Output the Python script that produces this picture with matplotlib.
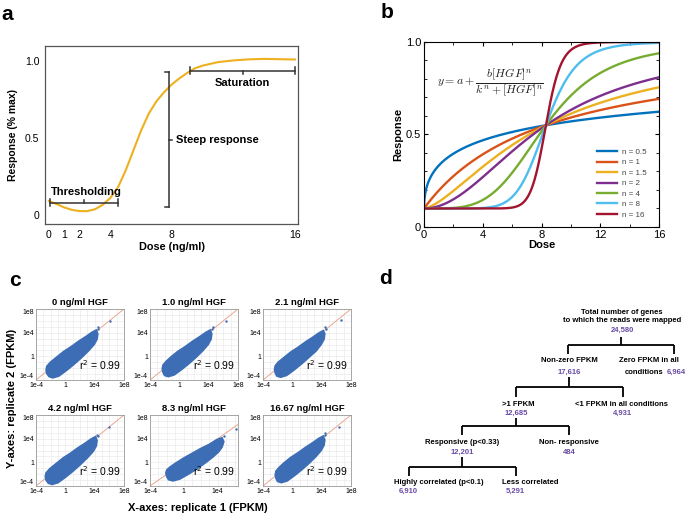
import numpy as np
import matplotlib
matplotlib.use("Agg")
import matplotlib.pyplot as plt
from matplotlib.ticker import MultipleLocator

plt.rcParams['font.family'] = ['Liberation Sans', 'DejaVu Sans']

W, H = 685, 517
fig = plt.figure(figsize=(W / 100, H / 100), dpi=100)

def box(l, t, r, b):
    return [l / W, 1 - b / H, (r - l) / W, (b - t) / H]

# ---------------- data ----------------
# panel a: dose-response curve
a_dose = [0, 0.5, 1, 1.5, 2, 2.5, 3, 3.5, 4, 4.5, 5, 5.5, 6, 6.5, 7, 7.5, 8,
          8.5, 9, 9.5, 10, 11, 12, 13, 14, 15, 16]
a_resp = [0.09, 0.07, 0.048, 0.032, 0.024, 0.024, 0.036, 0.065, 0.11, 0.18,
          0.29, 0.42, 0.55, 0.66, 0.74, 0.80, 0.85, 0.89, 0.925, 0.955, 0.972,
          0.995, 1.006, 1.013, 1.016, 1.014, 1.012]
a_xticks = [0, 1, 2, 4, 8, 16]
a_yticks = [0, 0.5, 1.0]
a_yticklabels = ['0', '0.5', '1.0']

# panel b: Hill curves y = a + b x^n / (k^n + x^n)
hill_a, hill_b, hill_k = 0.1, 0.9, 8.3
hill_n = [0.5, 1, 1.5, 2, 4, 8, 16]
hill_colors = ['#0072BD', '#D95319', '#EDB120', '#7E2F8E', '#77AC30', '#4DBEEE', '#A2142F']

# panel c: replicate scatter clouds (log10 FPKM outlines + outliers)
c_titles = ['0 ng/ml HGF', '1.0 ng/ml HGF', '2.1 ng/ml HGF',
            '4.2 ng/ml HGF', '8.3 ng/ml HGF', '16.67 ng/ml HGF']
c_r2 = [0.99, 0.99, 0.99, 0.99, 0.99, 0.99]
c_xmax = [8, 8, 8, 8, 6.4, 8]
cloud_x = [
    [-2.6, -2.5, -2.2, -1.7, -0.9, 0.1, 1.1, 2.1, 3.1, 3.9, 4.3, 4.4, 4.2, 3.6, 2.8, 1.8, 0.8, -0.2, -1.2, -2.0, -2.5],
    [-2.3, -2.2, -2.0, -1.5, -0.7, 0.3, 1.3, 2.3, 3.2, 3.9, 4.3, 4.4, 4.2, 3.6, 2.8, 1.8, 0.8, -0.2, -1.1, -1.8, -2.2],
    [-2.4, -2.3, -2.1, -1.6, -0.8, 0.2, 1.2, 2.2, 3.2, 3.9, 4.3, 4.4, 4.2, 3.6, 2.8, 1.8, 0.8, -0.2, -1.1, -1.9, -2.3],
    [-2.7, -2.6, -2.3, -1.8, -1.0, 0.0, 1.0, 2.0, 3.0, 3.8, 4.2, 4.3, 4.1, 3.5, 2.7, 1.7, 0.7, -0.3, -1.3, -2.1, -2.6],
    [-2.1, -2.0, -1.8, -1.3, -0.5, 0.5, 1.5, 2.5, 3.4, 4.1, 4.5, 4.7, 4.5, 3.9, 3.0, 2.0, 1.0, 0.0, -1.0, -1.6, -2.0],
    [-2.3, -2.2, -2.0, -1.5, -0.7, 0.3, 1.3, 2.3, 3.2, 3.9, 4.3, 4.4, 4.2, 3.6, 2.8, 1.8, 0.8, -0.2, -1.1, -1.8, -2.2],
]
cloud_y = [
    [-2.3, -2.9, -3.4, -3.6, -3.3, -2.4, -1.4, -0.3, 0.9, 2.0, 2.9, 3.8, 4.4, 4.0, 3.3, 2.5, 1.6, 0.8, -0.2, -1.0, -1.7],
    [-2.1, -2.7, -3.2, -3.4, -3.1, -2.2, -1.2, -0.1, 1.0, 2.0, 2.9, 3.8, 4.4, 4.0, 3.3, 2.5, 1.6, 0.8, -0.1, -0.9, -1.5],
    [-2.2, -2.8, -3.3, -3.5, -3.2, -2.3, -1.3, -0.2, 0.9, 2.0, 2.9, 3.8, 4.3, 3.9, 3.2, 2.4, 1.5, 0.7, -0.2, -1.0, -1.6],
    [-2.4, -3.0, -3.5, -3.7, -3.4, -2.5, -1.5, -0.4, 0.8, 1.9, 2.8, 3.7, 4.3, 3.9, 3.2, 2.4, 1.5, 0.7, -0.3, -1.1, -1.8],
    [-1.8, -2.4, -2.9, -3.1, -2.8, -2.0, -1.1, -0.1, 0.9, 1.8, 2.6, 3.5, 4.1, 3.8, 3.0, 2.3, 1.5, 0.7, -0.2, -0.8, -1.3],
    [-2.1, -2.7, -3.2, -3.4, -3.1, -2.2, -1.2, -0.1, 1.0, 2.0, 2.9, 3.8, 4.4, 4.0, 3.3, 2.5, 1.6, 0.8, -0.1, -0.9, -1.5],
]
outlier_x = [[4.5, 4.4, 6.1], [4.6, 4.5, 6.4], [4.5, 4.6, 6.6],
             [4.3, 4.4, 6.0], [4.8, 6.2], [4.5, 4.4, 6.3]]
outlier_y = [[5.0, 4.7, 5.9], [5.0, 4.7, 6.0], [4.9, 4.6, 6.1],
             [4.6, 4.4, 5.9], [4.5, 5.7], [5.0, 4.6, 6.0]]
c_ticks = [-4, 0, 4, 8]
c_ticklabels = ['1e-4', '1', '1e4', '1e8']

# panel d: tree counts
d_total = '24,580'
d_nonzero = '17,616'
d_zero = '6,964'
d_gt1 = '12,685'
d_lt1 = '4,931'
d_resp = '12,201'
d_nonresp = '484'
d_high = '6,910'
d_less = '5,291'

# ---------------- overlay (panel letters, tree) ----------------
ov = fig.add_axes([0, 0, 1, 1], zorder=0)
ov.set_xlim(0, W)
ov.set_ylim(H, 0)
ov.axis('off')
for lab, (x, y) in zip('abcd', [(7, 14), (387, 13), (15, 281), (386, 279)]):
    ov.text(x, y, lab, fontsize=15, fontweight='bold', ha='center', va='center')

# ---------------- panel a ----------------
axa = fig.add_axes(box(45, 46, 298, 224))
axa.plot(a_dose, a_resp, color='#EDB120', lw=1.5)
axa.set_xlim(-0.25, 16.2)
axa.set_ylim(-0.06, 1.1)
axa.set_xticks(a_xticks)
axa.set_yticks(a_yticks)
axa.set_yticklabels(a_yticklabels)
axa.tick_params(length=0, labelsize=7.5, pad=4)
for s in axa.spines.values():
    s.set_color('#555555')
    s.set_linewidth(0.9)
axa.set_xlabel('Dose (ng/ml)', fontsize=7.8, fontweight='bold', labelpad=2)
axa.set_ylabel('Response (% max)', fontsize=7.5, fontweight='bold', labelpad=5)
bc = '#333333'
# thresholding bracket
axa.plot([0.07, 4.48], [0.078, 0.078], color=bc, lw=1.1)
for xx in [0.07, 4.48]:
    axa.plot([xx, xx], [0.06, 0.10], color=bc, lw=1.1)
axa.plot([2.27, 2.27], [0.078, 0.095], color=bc, lw=1.1)
axa.text(0.1, 0.115, 'Thresholding', fontsize=8, fontweight='bold', va='bottom', ha='left')
# steep response bracket
axa.plot([7.8, 7.8], [0.05, 0.93], color=bc, lw=1.1)
for yy in [0.05, 0.93]:
    axa.plot([7.55, 7.8], [yy, yy], color=bc, lw=1.1)
axa.plot([7.8, 8.0], [0.49, 0.49], color=bc, lw=1.1)
axa.text(8.25, 0.49, 'Steep response', fontsize=8, fontweight='bold', va='center', ha='left')
# saturation bracket
axa.plot([9.2, 16.0], [0.935, 0.935], color=bc, lw=1.1)
for xx in [9.2, 16.0]:
    axa.plot([xx, xx], [0.92, 0.96], color=bc, lw=1.1)
axa.plot([12.6, 12.6], [0.935, 0.915], color=bc, lw=1.1)
axa.text(12.6, 0.857, 'Saturation', fontsize=8, fontweight='bold', va='center', ha='center')

# ---------------- panel b ----------------
axb = fig.add_axes(box(424, 42, 659, 227))
xs = np.linspace(0, 16, 801)
for n, col in zip(hill_n, hill_colors):
    ys = hill_a + hill_b * xs ** n / (hill_k ** n + xs ** n)
    axb.plot(xs, ys, color=col, lw=1.7, label=f'n = {n:g}')
axb.set_xlim(0, 16)
axb.set_ylim(0, 1)
axb.set_xticks([0, 4, 8, 12, 16])
axb.xaxis.set_minor_locator(MultipleLocator(2))
axb.set_yticks([0, 0.5, 1.0])
axb.set_yticklabels(['0', '0.5', '1.0'])
axb.yaxis.set_minor_locator(MultipleLocator(0.1))
axb.tick_params(which='both', direction='in', top=True, right=True, labelsize=8, pad=2)
axb.tick_params(which='major', length=3)
axb.tick_params(which='minor', length=2)
for s in axb.spines.values():
    s.set_linewidth(0.8)
axb.set_xlabel('Dose', fontsize=8, fontweight='bold', labelpad=0)
axb.set_ylabel('Response', fontsize=8, fontweight='bold', labelpad=2)
axb.text(0.055, 0.775, r'$y = a + \dfrac{b[HGF]^n}{k^n + [HGF]^n}$', transform=axb.transAxes,
         fontsize=8.5, math_fontfamily='cm', va='center', ha='left', color='#222222')
leg = axb.legend(loc='upper left', bbox_to_anchor=(0.735, 0.425), frameon=False,
                 fontsize=5.8, handlelength=2.5, handletextpad=0.6, labelspacing=0.35,
                 borderpad=0, borderaxespad=0)
for t in leg.get_texts():
    t.set_color('#444444')

# ---------------- panel c ----------------
col_l = [36, 150, 263]
row_t = [309, 415]
cw, ch = 88, 71
for i in range(6):
    r, c = divmod(i, 3)
    ax = fig.add_axes(box(col_l[c], row_t[r], col_l[c] + cw, row_t[r] + ch))
    ax.set_xlim(-4, c_xmax[i])
    ax.set_ylim(-4, 8)
    ax.xaxis.set_minor_locator(MultipleLocator(1))
    ax.yaxis.set_minor_locator(MultipleLocator(1))
    ax.grid(which='both', color='#e6e6e6', lw=0.4)
    ax.set_axisbelow(True)
    ax.plot([-4, 8], [-4, 8], color='#e9a890', lw=0.7, zorder=1)
    ax.fill(cloud_x[i], cloud_y[i], color='#3d6db5', lw=1.5, ec='#3d6db5', zorder=2)
    ax.scatter(outlier_x[i], outlier_y[i], s=3, color='#3d6db5', lw=0, zorder=3)
    xt = [v for v in c_ticks if v <= c_xmax[i]]
    ax.set_xticks(xt)
    ax.set_xticklabels(c_ticklabels[:len(xt)])
    ax.set_yticks(c_ticks)
    ax.set_yticklabels(c_ticklabels)
    ax.tick_params(which='both', length=0, labelsize=5, pad=1.5)
    ylabs = ax.get_yticklabels()
    ylabs[0].set_va('bottom')
    ylabs[-1].set_va('top')
    for s in ax.spines.values():
        s.set_color('#999999')
        s.set_linewidth(0.6)
    ax.set_title(c_titles[i], fontsize=6.8, fontweight='bold', pad=3)
    ax.text(0.97, 0.11, r'r$^{2}$' + f' = {c_r2[i]:.2f}', transform=ax.transAxes,
            fontsize=7.5, ha='right', va='bottom')

fig.text(12 / W, 1 - 398 / H, 'Y-axes: replicate 2 (FPKM)', rotation=90, fontsize=8,
         fontweight='bold', ha='center', va='center')
fig.text(198 / W, 1 - 508 / H, 'X-axes: replicate 1 (FPKM)', fontsize=8,
         fontweight='bold', ha='center', va='center')

# ---------------- panel d ----------------
purple = '#6a4ba5'
fs = 5.5
def t(x, y, s, color='black', ha='center'):
    ov.text(x, y, s, fontsize=fs, fontweight='bold', color=color, ha=ha, va='center')

def seg(x0, y0, x1, y1):
    ov.plot([x0, x1], [y0, y1], color='black', lw=1.3, solid_capstyle='butt')

t(622, 312, 'Total number of genes')
t(622, 321, 'to which the reads were mapped')
t(622, 330, d_total, purple)
seg(621, 337, 621, 345); seg(568, 345, 674, 345)
seg(568, 345, 568, 354); seg(674, 345, 674, 354)
t(569, 361, 'Non-zero FPKM')
t(569, 372, d_nonzero, purple)
t(649, 361, 'Zero FPKM in all')
t(664, 372, 'conditions', ha='right')
t(667, 372, d_zero, purple, ha='left')
seg(569, 377, 569, 387); seg(516, 387, 623, 387)
seg(516, 387, 516, 397); seg(623, 387, 623, 397)
t(518, 404, '>1 FPKM')
t(516, 413, d_gt1, purple)
t(622, 404, '<1 FPKM in all conditions')
t(622, 413, d_lt1, purple)
seg(516, 418, 516, 426); seg(462, 426, 569, 426)
seg(462, 426, 462, 435); seg(569, 426, 569, 435)
t(462, 443, 'Responsive (p<0.33)')
t(462, 452, d_resp, purple)
t(569, 443, 'Non- responsive')
t(569, 452, d_nonresp, purple)
seg(462, 457, 462, 467); seg(409, 467, 516, 467)
seg(409, 467, 409, 476); seg(516, 467, 516, 476)
t(439, 482, 'Highly correlated (p<0.1)')
t(408, 491, d_high, purple)
t(530, 482, 'Less correlated')
t(515, 491, d_less, purple)

fig.savefig('out.png', dpi=100)
